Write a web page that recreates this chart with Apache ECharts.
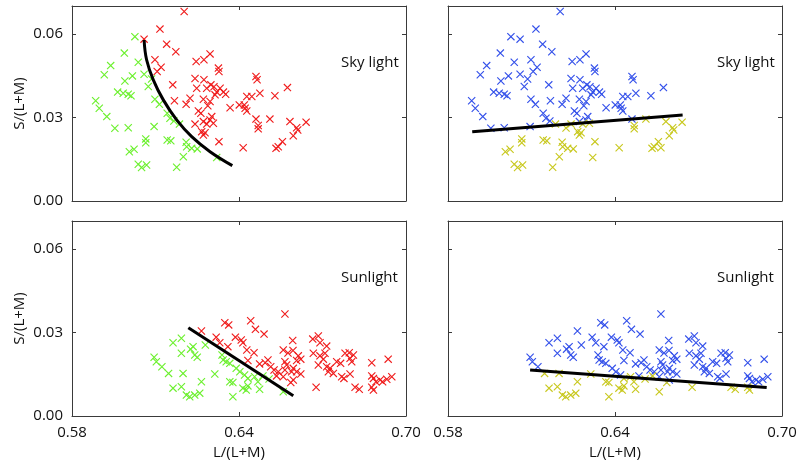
<!DOCTYPE html>
<html>
<head>
<meta charset="utf-8">
<script src="https://cdn.jsdelivr.net/npm/echarts@6/dist/echarts.min.js"></script>
<style>html,body{margin:0;padding:0;background:#fff}#c{width:800px;height:466px}</style>
</head>
<body>
<div id="c"></div>
<script>
// ---- Data (L/(L+M), S/(L+M)) ----
// Skylight samples; skyGroupL: 1 = red, 0 = green (left panel); skyGroupR: 1 = blue, 0 = yellow (right panel)
const skyX = [0.6026,0.5988,0.5939,0.5916,0.6038,0.6059,0.6017,0.5990,0.6086,0.6074,0.5964,0.5984,0.6002,0.6012,0.5885,0.5898,0.5925,0.6098,0.6114,0.6142,0.6152,0.6166,0.6186,0.5954,0.6002,0.6095,0.6065,0.6065,0.6142,0.6155,0.6210,0.6212,0.6230,0.6250,0.6006,0.6023,0.6200,0.6038,0.6050,0.6068,0.6176,0.6320,
  0.6203,0.6116,0.6059,0.6140,0.6173,0.6098,0.6120,0.6106,0.6246,0.6274,0.6296,0.6326,0.6328,0.6242,0.6274,0.6162,0.6248,0.6284,0.6299,0.6310,0.6332,0.6344,0.6352,0.6314,0.6320,0.6461,0.6465,0.6574,0.6168,0.6224,0.6210,0.6272,0.6296,0.6288,0.6254,0.6263,0.6302,0.6296,0.6308,0.6272,0.6284,0.6242,0.6266,0.6278,0.6272,0.6328,0.6415,0.6368,0.6401,0.6419,0.6422,0.6428,0.6428,0.6446,0.6475,0.6529,0.6461,0.6511,0.6469,0.6469,0.6583,0.6641,0.6607,0.6611,0.6595,0.6533,0.6541,0.6556,0.6565,0.6224];
const skyY = [0.0590,0.0531,0.0486,0.0453,0.0498,0.0455,0.0449,0.0431,0.0438,0.0411,0.0391,0.0387,0.0383,0.0378,0.0360,0.0333,0.0303,0.0365,0.0347,0.0315,0.0297,0.0287,0.0276,0.0261,0.0263,0.0267,0.0223,0.0209,0.0219,0.0216,0.0211,0.0195,0.0189,0.0187,0.0177,0.0186,0.0159,0.0132,0.0120,0.0129,0.0121,0.0156,
  0.0680,0.0617,0.0581,0.0563,0.0536,0.0507,0.0480,0.0465,0.0501,0.0507,0.0528,0.0477,0.0465,0.0440,0.0435,0.0417,0.0405,0.0405,0.0417,0.0410,0.0405,0.0391,0.0383,0.0381,0.0391,0.0447,0.0435,0.0407,0.0360,0.0369,0.0347,0.0365,0.0357,0.0342,0.0323,0.0315,0.0303,0.0291,0.0279,0.0285,0.0276,0.0276,0.0249,0.0245,0.0237,0.0213,0.0191,0.0335,0.0345,0.0345,0.0333,0.0323,0.0375,0.0375,0.0387,0.0378,0.0294,0.0294,0.0271,0.0259,0.0285,0.0283,0.0263,0.0255,0.0234,0.0189,0.0195,0.0213,0.0191,0.0262];
const skyGroupL = [0,0,0,0,0,0,0,0,0,0,0,0,0,0,0,0,0,0,0,0,0,0,0,0,0,0,0,0,0,0,0,0,0,0,0,0,0,0,0,0,0,0,
  1,1,1,1,1,1,1,1,1,1,1,1,1,1,1,1,1,1,1,1,1,1,1,1,1,1,1,1,1,1,1,1,1,1,1,1,1,1,1,1,1,1,1,1,1,1,1,1,1,1,1,1,1,1,1,1,1,1,1,1,1,1,1,1,1,1,1,1];
const skyGroupR = [1,1,1,1,1,1,1,1,1,1,1,1,1,1,1,1,1,1,1,1,1,1,0,1,1,1,0,0,0,0,0,0,0,0,0,0,0,0,0,0,0,0,
  1,1,1,1,1,1,1,1,1,1,1,1,1,1,1,1,1,1,1,1,1,1,1,1,1,1,1,1,1,1,1,1,1,1,1,1,1,1,0,1,0,0,0,0,0,0,0,1,1,1,1,1,1,1,1,1,1,0,0,0,0,0,0,0,0,0,0,0,0,0];

// Sunlight samples
const sunX = [0.6163,0.6193,0.6193,0.6226,0.6235,0.6241,0.6250,0.6279,0.6095,0.6103,0.6123,0.6147,0.6199,0.6163,0.6193,0.6211,0.6223,0.6241,0.6259,0.6265,0.6313,0.6339,0.6343,0.6354,0.6367,0.6367,0.6378,0.6390,0.6403,0.6420,0.6432,0.6414,0.6426,0.6432,0.6456,0.6468,0.6378,0.6474,0.6486,0.6508,0.6559,
  0.6265,0.6318,0.6331,0.6349,0.6363,0.6360,0.6387,0.6408,0.6414,0.6442,0.6459,0.6490,0.6454,0.6428,0.6432,0.6474,0.6494,0.6504,0.6514,0.6526,0.6541,0.6565,0.6593,0.6559,0.6576,0.6594,0.6613,0.6622,0.6607,0.6565,0.6571,0.6565,0.6535,0.6559,0.6589,0.6595,0.6607,0.6622,0.6586,0.6595,0.6665,0.6685,0.6691,0.6715,0.6667,0.6691,0.6703,0.6709,0.6685,0.6715,0.6727,0.6721,0.6739,0.6751,0.6765,0.6781,0.6796,0.6811,0.6799,0.6805,0.6677,0.6769,0.6777,0.6799,0.6817,0.6832,0.6877,0.6936,0.6877,0.6883,0.6892,0.6877,0.6883,0.6907,0.6916,0.6931,0.6949];
const sunY = [0.0263,0.0279,0.0225,0.0240,0.0249,0.0219,0.0211,0.0255,0.0211,0.0195,0.0177,0.0153,0.0153,0.0100,0.0105,0.0075,0.0069,0.0075,0.0082,0.0123,0.0151,0.0219,0.0201,0.0195,0.0189,0.0123,0.0120,0.0171,0.0159,0.0147,0.0135,0.0100,0.0093,0.0108,0.0141,0.0123,0.0069,0.0096,0.0144,0.0133,0.0087,
  0.0305,0.0283,0.0263,0.0335,0.0327,0.0249,0.0283,0.0273,0.0263,0.0342,0.0311,0.0294,0.0227,0.0237,0.0199,0.0187,0.0191,0.0201,0.0177,0.0165,0.0159,0.0366,0.0271,0.0237,0.0226,0.0235,0.0216,0.0204,0.0199,0.0195,0.0183,0.0165,0.0144,0.0141,0.0159,0.0171,0.0159,0.0151,0.0120,0.0129,0.0276,0.0287,0.0263,0.0251,0.0225,0.0216,0.0204,0.0225,0.0183,0.0177,0.0171,0.0159,0.0153,0.0195,0.0189,0.0225,0.0227,0.0219,0.0207,0.0195,0.0103,0.0141,0.0135,0.0151,0.0103,0.0096,0.0191,0.0204,0.0144,0.0135,0.0123,0.0103,0.0093,0.0129,0.0123,0.0132,0.0141];
const sunGroupL = [0,0,0,0,0,0,0,0,0,0,0,0,0,0,0,0,0,0,0,0,0,0,0,0,0,0,0,0,0,0,0,0,0,0,0,0,0,0,0,0,0,
  1,1,1,1,1,1,1,1,1,1,1,1,1,1,1,1,1,1,1,1,1,1,1,1,1,1,1,1,1,1,1,1,1,1,1,1,1,1,1,1,1,1,1,1,1,1,1,1,1,1,1,1,1,1,1,1,1,1,1,1,1,1,1,1,1,1,1,1,1,1,1,1,1,1,1,1,1];
const sunGroupR = [1,1,1,1,1,1,1,1,1,1,1,0,0,0,0,0,0,0,0,0,0,1,1,1,1,0,0,1,1,1,0,0,0,0,0,0,0,0,1,0,0,
  1,1,1,1,1,1,1,1,1,1,1,1,1,1,1,1,1,1,1,1,1,1,1,1,1,1,1,1,1,1,1,1,0,1,1,1,1,1,0,1,1,1,1,1,1,1,1,1,1,1,1,1,1,1,1,1,1,1,1,1,0,1,1,1,0,0,1,1,1,1,1,0,0,1,1,1,1];

// Fitted boundaries
const skyCurveX = [0.6059,0.6068,0.6092,0.6128,0.6176,0.6230,0.6296,0.6376];
const skyCurveY = [0.0578,0.0507,0.0435,0.0363,0.0291,0.0231,0.0177,0.0127];
const skyLineX = [0.5887,0.6643];
const skyLineY = [0.0249,0.0309];
const sunLineLX = [0.6218,0.6595];
const sunLineLY = [0.0317,0.0073];
const sunLineRX = [0.6095,0.6945];
const sunLineRY = [0.0165,0.0102];

const xTicks = ['0.58','0.64','0.70'];
const yTicks = ['0.00','0.03','0.06'];
const panelLabels = ['Sky light','Sky light','Sunlight','Sunlight'];

// ---- Build ----
const FONT = '"Open Sans", "DejaVu Sans", sans-serif';
const COLORS = {red:'#f01c1c', green:'#6cf02e', blue:'#3350ea', yellow:'#c8c81e'};
const XSYM = 'path://M0,1L1,0L10,9L9,10Z M9,0L10,1L1,10L0,9Z';

function pick(xs, ys, g, val){
  const out=[]; for(let i=0;i<xs.length;i++){ if(g[i]===val) out.push([xs[i],ys[i]]); } return out;
}
function zip(a,b){ return a.map((v,i)=>[v,b[i]]); }

const gridPos = [
  {left:72, top:6, width:334, height:195},
  {left:448, top:6, width:334, height:195},
  {left:72, top:221, width:334, height:195},
  {left:448, top:221, width:334, height:195}
];
const axLine = {show:true, onZero:false, lineStyle:{color:'#3a3a3a', width:1}};
const axTick = {show:true, inside:true, length:4, lineStyle:{color:'#3a3a3a', width:1}};

const xAxis=[], yAxis=[], series=[];
gridPos.forEach((g,i)=>{
  const row = i<2?0:1, col=i%2;
  xAxis.push({type:'value', gridIndex:i, position:'bottom', min:0.58, max:0.70, interval:0.06,
    axisLine:axLine, axisTick:axTick, splitLine:{show:false},
    axisLabel:{show:row===1, formatter:v=>{const s=v.toFixed(2); return xTicks.includes(s)?s:'';}, color:'#111', fontSize:15, fontFamily:FONT, margin:9},
    name: row===1?'L/(L+M)':'', nameLocation:'middle', nameGap:29,
    nameTextStyle:{color:'#111', fontSize:15, fontFamily:FONT}});
  xAxis.push({type:'value', gridIndex:i, position:'top', min:0.58, max:0.70, interval:0.06,
    axisLine:axLine, axisTick:axTick, splitLine:{show:false}, axisLabel:{show:false}});
  yAxis.push({type:'value', gridIndex:i, position:'left', min:0, max:0.07, interval:0.03,
    axisLine:axLine, axisTick:axTick, splitLine:{show:false},
    axisLabel:{show:col===0, showMaxLabel:false, formatter:v=>{const s=v.toFixed(2); return yTicks.includes(s)?s:'';}, color:'#111', fontSize:15, fontFamily:FONT, margin:9},
    name: col===0?'S/(L+M)':'', nameLocation:'middle', nameGap:45,
    nameTextStyle:{color:'#111', fontSize:15, fontFamily:FONT}});
  yAxis.push({type:'value', gridIndex:i, position:'right', min:0, max:0.07, interval:0.03,
    axisLine:axLine, axisTick:axTick, splitLine:{show:false}, axisLabel:{show:false}});
});

function scatter(i, data, color){
  series.push({type:'scatter', xAxisIndex:2*i, yAxisIndex:2*i, data:data, symbol:XSYM, symbolSize:8,
    itemStyle:{color:color, opacity:1}, silent:true, z:2});
}
function line(i, data, smooth){
  series.push({type:'line', xAxisIndex:2*i, yAxisIndex:2*i, data:data, showSymbol:false, symbol:'none', smooth:smooth,
    lineStyle:{color:'#000', width:3}, silent:true, z:5});
}
// Panel 0: skylight, red/green with curve
scatter(0, pick(skyX,skyY,skyGroupL,0), COLORS.green);
scatter(0, pick(skyX,skyY,skyGroupL,1), COLORS.red);
line(0, zip(skyCurveX,skyCurveY), 0.4);
// Panel 1: skylight, blue/yellow
scatter(1, pick(skyX,skyY,skyGroupR,1), COLORS.blue);
scatter(1, pick(skyX,skyY,skyGroupR,0), COLORS.yellow);
line(1, zip(skyLineX,skyLineY), false);
// Panel 2: sunlight red/green
scatter(2, pick(sunX,sunY,sunGroupL,0), COLORS.green);
scatter(2, pick(sunX,sunY,sunGroupL,1), COLORS.red);
line(2, zip(sunLineLX,sunLineLY), false);
// Panel 3: sunlight blue/yellow
scatter(3, pick(sunX,sunY,sunGroupR,1), COLORS.blue);
scatter(3, pick(sunX,sunY,sunGroupR,0), COLORS.yellow);
line(3, zip(sunLineRX,sunLineRY), false);

const labelPos = [[341,55],[717,55],[341,270],[717,270]];
const graphic = panelLabels.map((t,i)=>({type:'text', left:labelPos[i][0], top:labelPos[i][1], z:10,
  style:{text:t, fill:'#111', font:'15px ' + FONT}}));

const chart = echarts.init(document.getElementById('c'), null, {renderer:'canvas'});
chart.setOption({animation:false, backgroundColor:'#fff', grid:gridPos, xAxis, yAxis, series, graphic});
</script>
</body>
</html>
